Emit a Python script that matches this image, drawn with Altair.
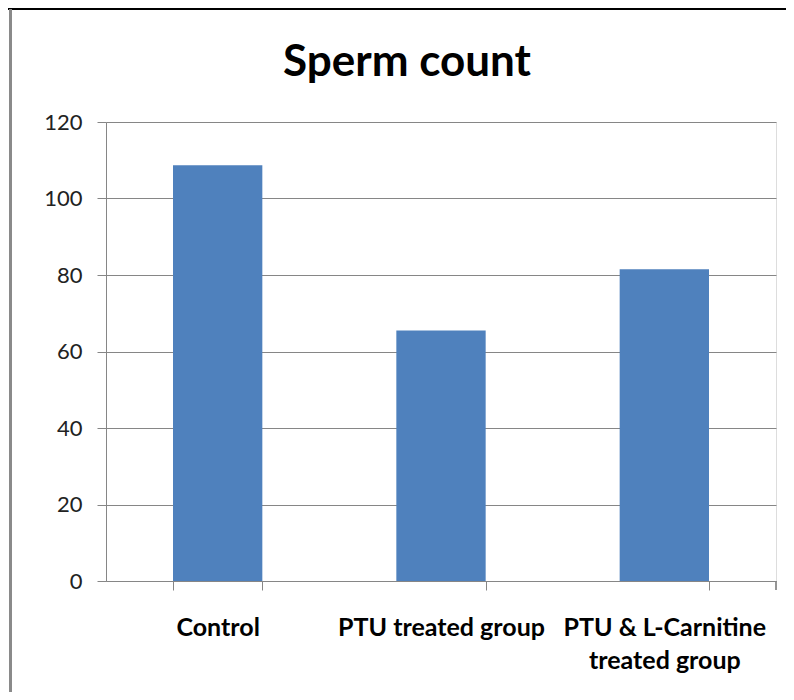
import altair as alt
import pandas as pd

categories = ["Control", "PTU treated group", "PTU & L-Carnitine\ntreated group"]
values = [108.7, 65.5, 81.5]
y_ticks = [0, 20, 40, 60, 80, 100, 120]
title_text = "Sperm count"

df = pd.DataFrame({"category": categories, "value": values})

W, H = 670, 459
GRAY = "#868686"

bars = alt.Chart(df).mark_bar(color="#4F81BD").encode(
    x=alt.X(
        "category:N",
        sort=categories,
        title=None,
        scale=alt.Scale(paddingInner=0.6, paddingOuter=0.3),
        axis=alt.Axis(
            labelAngle=0,
            labelFont="Lato",
            labelFontWeight="bold",
            labelFontSize=25,
            labelColor="#000000",
            labelPadding=25,
            labelLineHeight=33,
            labelLimit=400,
            labelExpr="split(datum.label, '\\n')",
            tickSize=9,
            tickColor=GRAY,
            tickBand="extent",
            bandPosition=0,
            domainColor=GRAY,
            grid=False,
        ),
    ),
    y=alt.Y(
        "value:Q",
        title=None,
        scale=alt.Scale(domain=[0, 120], nice=False),
        axis=alt.Axis(
            values=y_ticks,
            labelFont="Lato",
            labelFontSize=22,
            labelColor="#222222",
            labelPadding=15,
            tickSize=9,
            tickColor=GRAY,
            domainColor=GRAY,
            gridColor=GRAY,
            gridWidth=1,
        ),
    ),
)

end_tick = alt.Chart(df).mark_rule(color=GRAY).encode(
    x=alt.value(W), y=alt.value(H), y2=alt.value(H + 9)
)

frame_top = alt.Chart(df).mark_rule(color="#000000", strokeWidth=2).encode(
    x=alt.value(-98), x2=alt.value(W + 20), y=alt.value(-113)
)
frame_left = alt.Chart(df).mark_rule(color="#8a8a8a", strokeWidth=3).encode(
    x=alt.value(-95.5), y=alt.value(-113), y2=alt.value(H + 200)
)

chart = (
    alt.layer(bars, end_tick, frame_top, frame_left)
    .properties(
        width=W,
        height=H,
        title=alt.TitleParams(
            title_text,
            font="Lato",
            fontSize=44,
            fontWeight="bold",
            color="#000000",
            anchor="middle",
            dx=-34,
            offset=-77,
        ),
        autosize=alt.AutoSizeParams(type="none"),
        padding={"left": 98, "top": 114, "right": 10, "bottom": 111},
    )
    .configure_view(stroke=None)
    .configure(background="white")
)

chart.save("out.html", embed_options={"renderer": "svg", "actions": False})
